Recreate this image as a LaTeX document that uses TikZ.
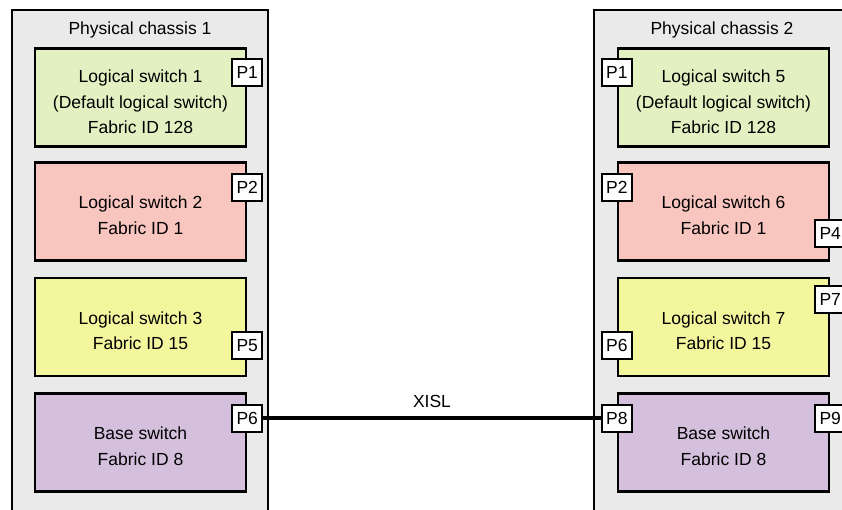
\documentclass[tikz,border=0pt]{standalone}
\usepackage{fontspec}
\setmainfont{Liberation Sans}
\definecolor{chassisgray}{HTML}{EAEAEA}
\definecolor{lsgreen}{HTML}{E3F1C2}
\definecolor{lspink}{HTML}{F8C5BF}
\definecolor{lsyellow}{HTML}{F4F69E}
\definecolor{lspurple}{HTML}{D4C0DD}
\tikzset{
  chassis/.style={draw, line width=2.6pt, fill=chassisgray},
  lswitch/.style={draw, line width=2.4pt, minimum width=211pt, minimum height=98pt, align=center, inner sep=0pt},
  port/.style={draw, line width=2pt, fill=white, minimum width=30pt, minimum height=27pt, inner sep=0pt},
}
\begin{document}
\begin{tikzpicture}[x=1pt, y=-1pt, font=\fontsize{17.5}{25.5}\selectfont]
\useasboundingbox (0,0) rectangle (842,510);
% chassis frames
\draw[chassis] (12,10) rectangle (268,540);
\draw[chassis] (594,10) rectangle (870,540);
\node (title1) at (140,30) {Physical chassis 1};
\node (title2) at (722,30) {Physical chassis 2};

% chassis 1
\node[lswitch, fill=lsgreen] (ls1) at (140.5,97.5) {\rule{0pt}{22pt}Logical switch 1\\(Default logical switch)\\Fabric ID 128};
\node[lswitch, fill=lspink] (ls2) at (140.5,211.5) {\rule{0pt}{20pt}Logical switch 2\\Fabric ID 1};
\node[lswitch, fill=lsyellow] (ls3) at (140.5,327) {\rule{0pt}{20pt}Logical switch 3\\Fabric ID 15};
\node[lswitch, fill=lspurple] (bs1) at (140.5,442.5) {\rule{0pt}{20pt}Base switch\\Fabric ID 8};
\node[port] (ls1p1) at ([yshift=-25pt]ls1.north east) {P1};
\node[port] (ls2p2) at ([yshift=-26pt]ls2.north east) {P2};
\node[port] (ls3p5) at ([yshift=32pt]ls3.south east) {P5};
\node[port] (bs1p6) at ([yshift=-26pt]bs1.north east) {P6};

% chassis 2
\node[lswitch, fill=lsgreen] (ls5) at (723.5,97.5) {\rule{0pt}{22pt}Logical switch 5\\(Default logical switch)\\Fabric ID 128};
\node[lswitch, fill=lspink] (ls6) at (723.5,211.5) {\rule{0pt}{20pt}Logical switch 6\\Fabric ID 1};
\node[lswitch, fill=lsyellow] (ls7) at (723.5,327) {\rule{0pt}{20pt}Logical switch 7\\Fabric ID 15};
\node[lswitch, fill=lspurple] (bs2) at (723.5,442.5) {\rule{0pt}{20pt}Base switch\\Fabric ID 8};
\node[port] (ls5p1) at ([yshift=-25pt]ls5.north west) {P1};
\node[port] (ls6p2) at ([yshift=-26pt]ls6.north west) {P2};
\node[port] (ls6p4) at ([yshift=28pt]ls6.south east) {P4};
\node[port] (ls7p7) at ([yshift=-23pt]ls7.north east) {P7};
\node[port] (ls7p6) at ([yshift=32pt]ls7.south west) {P6};
\node[port] (bs2p8) at ([yshift=-26pt]bs2.north west) {P8};
\node[port] (bs2p9) at ([yshift=-26pt]bs2.north east) {P9};

% inter-chassis link
\draw[line width=4pt] (bs1p6.east) -- (bs2p8.west) node[midway, above=5pt] {XISL};
\end{tikzpicture}
\end{document}
